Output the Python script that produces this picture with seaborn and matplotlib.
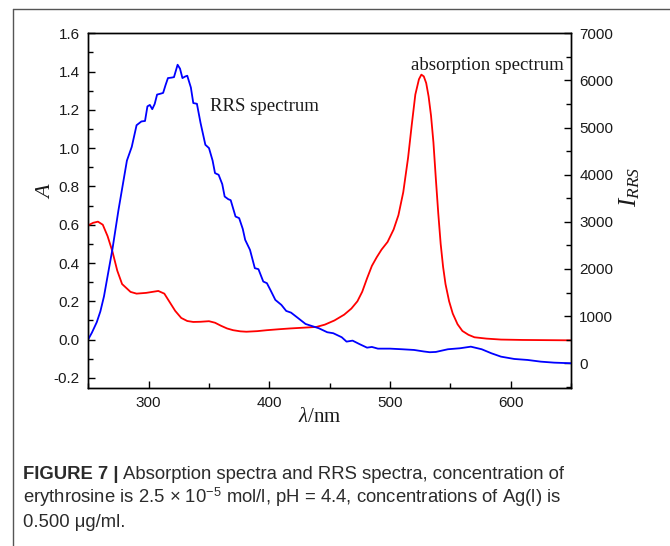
import numpy as np
import pandas as pd
import seaborn as sns
import matplotlib.pyplot as plt
from matplotlib.lines import Line2D
from matplotlib.ticker import MultipleLocator

# 吸收光谱 (左轴 A)
lam_abs = [250, 254, 258, 262, 266, 270, 274, 278, 285, 290, 298, 304, 308, 313, 318, 322,
           327, 332, 337, 343, 350, 355, 360, 365, 370, 376, 381, 390, 398, 408, 417, 428,
           439, 446, 454, 462, 468, 473, 477, 481, 485, 489, 493, 498, 503, 507, 511, 515,
           518, 521, 524, 526, 528, 530, 532, 534, 536, 538, 540, 542, 544, 546, 549, 552,
           556, 560, 565, 570, 580, 592, 610, 630, 650]
a_abs = [0.597, 0.61, 0.616, 0.6, 0.54, 0.46, 0.36, 0.29, 0.249, 0.24, 0.244, 0.25, 0.254,
         0.24, 0.19, 0.15, 0.113, 0.097, 0.092, 0.093, 0.096, 0.088, 0.072, 0.058, 0.049,
         0.043, 0.041, 0.044, 0.049, 0.054, 0.058, 0.062, 0.066, 0.078, 0.1, 0.13, 0.162,
         0.2, 0.25, 0.32, 0.385, 0.43, 0.47, 0.51, 0.575, 0.65, 0.77, 0.95, 1.12, 1.28,
         1.36, 1.384, 1.375, 1.34, 1.27, 1.17, 1.03, 0.84, 0.66, 0.5, 0.38, 0.29, 0.2,
         0.136, 0.08, 0.045, 0.025, 0.012, 0.005, 0.0, -0.002, -0.003, -0.004]

# RRS 光谱 (右轴 I_RRS)
lam_rrs = [250, 253, 257, 260, 263, 266, 270, 275, 279, 282, 286, 290, 294, 297, 299, 301,
           303, 305, 307, 310, 312, 314, 316, 319, 321, 324, 326, 328, 330, 332, 335, 337,
           340, 343, 347, 350, 353, 355, 358, 361, 363, 366, 368, 372, 375, 378, 380, 384,
           388, 391, 395, 398, 401, 405, 410, 414, 418, 424, 430, 435, 441, 448, 453, 460,
           464, 469, 475, 481, 485, 490, 500, 510, 520, 528, 533, 538, 548, 558, 567, 576,
           584, 592, 603, 614, 625, 636, 650]
i_rrs = [509, 650, 870, 1100, 1420, 1850, 2420, 3250, 3850, 4300, 4590, 5050, 5130, 5140,
         5450, 5480, 5390, 5500, 5700, 5720, 5735, 5900, 6050, 6060, 6070, 6333, 6250, 6050,
         6080, 6100, 5850, 5520, 5505, 5100, 4635, 4565, 4300, 4034, 3998, 3800, 3537, 3480,
         3460, 3113, 3079, 2850, 2618, 2405, 2017, 1996, 1733, 1699, 1550, 1344, 1238, 1110,
         1074, 955, 834, 792, 743, 658, 637, 552, 459, 480, 403, 331, 346, 310, 310, 297,
         282, 250, 234, 240, 297, 318, 352, 297, 212, 140, 91, 70, 34, 13, 0]

df_abs = pd.DataFrame({"lam": lam_abs, "A": a_abs})
df_rrs = pd.DataFrame({"lam": lam_rrs, "I": i_rrs})

sns.set_theme(style="ticks")
plt.rcParams["font.family"] = ["Liberation Sans", "DejaVu Sans"]
plt.rcParams["mathtext.fontset"] = "custom"
plt.rcParams["mathtext.rm"] = "Liberation Sans"
plt.rcParams["mathtext.it"] = "Liberation Serif:italic"
plt.rcParams["text.color"] = "#1a1a1a"

W, H = 670, 546
fig = plt.figure(figsize=(W / 100, H / 100), dpi=100)
fig.patch.set_facecolor("white")

ax = fig.add_axes([88.3 / W, 1 - 388 / H, (571 - 88.3) / W, (388 - 33.3) / H])
ax2 = ax.twinx()

sns.lineplot(data=df_abs, x="lam", y="A", ax=ax, color="#ff0000", lw=1.3)
sns.lineplot(data=df_rrs, x="lam", y="I", ax=ax2, color="#0000ff", lw=1.3)

ax.set_xlim(250, 650)
ax.set_ylim(-0.253, 1.6)
ax2.set_ylim(-525, 7000)

ax.xaxis.set_major_locator(MultipleLocator(100))
ax.xaxis.set_minor_locator(MultipleLocator(50))
ax.yaxis.set_major_locator(MultipleLocator(0.2))
ax.yaxis.set_minor_locator(MultipleLocator(0.1))
ax2.yaxis.set_major_locator(MultipleLocator(1000))
ax2.yaxis.set_minor_locator(MultipleLocator(500))
ax.yaxis.set_major_formatter(plt.FuncFormatter(lambda v, p: f"{v:.1f}"))

for a in (ax, ax2):
    for s in a.spines.values():
        s.set_color("black")
        s.set_linewidth(1.0)
    a.tick_params(which="both", direction="in", colors="black", labelsize=11,
                  labelcolor="#1a1a1a", width=1.0)
    a.tick_params(which="major", length=5)
    a.tick_params(which="minor", length=3.5)
    a.set_xlabel("")
    a.set_ylabel("")
ax.tick_params(axis="y", pad=6)
ax.tick_params(axis="x", pad=6)
ax2.tick_params(axis="y", pad=6)
ax.tick_params(top=False, right=False, which="both")

# 轴标题
fig.text(47 / W, 1 - 192 / H, "A", family="Liberation Serif", style="italic",
         fontsize=16, rotation=90, ha="center", va="center")
fig.text(320 / W, 1 - 417 / H, r"$\lambda$/nm", family="Liberation Serif",
         fontsize=15, ha="center", va="center")
fig.text(630 / W, 1 - 187 / H, r"$I_{RRS}$", fontsize=18, rotation=90,
         ha="center", va="center")

# 曲线标注
ax.text(351, 1.216, "RRS spectrum", family="Liberation Serif", fontsize=13.5,
        ha="left", va="center")
ax.text(644, 1.43, "absorption spectrum", family="Liberation Serif", fontsize=13.5,
        ha="right", va="center")

# 外框线
fig.add_artist(Line2D([13 / W, 1], [1 - 8.5 / H] * 2, transform=fig.transFigure,
                      color="#555555", lw=1.0))
fig.add_artist(Line2D([13 / W, 13 / W], [0, 1 - 8.5 / H], transform=fig.transFigure,
                      color="#555555", lw=1.0))

# 图注
renderer = fig.canvas.get_renderer()
cap_x = 23 / W
cap_fs = 13.3
cap_col = "#2b2b2b"
t = fig.text(cap_x, 1 - 479 / H, "FIGURE 7 |", weight="bold", fontsize=cap_fs,
             color=cap_col, ha="left", va="baseline")
bb = t.get_window_extent(renderer)
fig.text(bb.x1 / W + 5 / W, 1 - 479 / H, "Absorption spectra and RRS spectra, concentration of",
         fontsize=cap_fs, color=cap_col, ha="left", va="baseline")
fig.text(cap_x, 1 - 503 / H,
         r"erythrosine is 2.5 $\times$ 10$^{-5}$ mol/l, pH = 4.4, concentrations of Ag(l) is",
         fontsize=cap_fs, color=cap_col, ha="left", va="baseline")
fig.text(cap_x, 1 - 527 / H, "0.500 \u03bcg/ml.", fontsize=cap_fs, color=cap_col,
         ha="left", va="baseline")

fig.savefig("out.png", dpi=100)
